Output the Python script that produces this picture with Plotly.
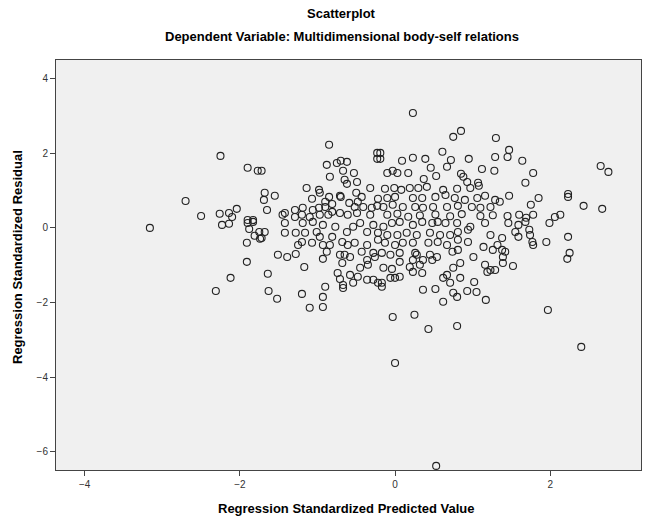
import plotly.graph_objects as go

# Regression standardized predicted value (x) and residual (y)
pred = [
    -2.25, -1.90, -1.77, -2.70, -2.50, -2.26, -2.14, -2.04, -2.10, -1.90, -1.83,
    -3.16, -2.23, -2.14, -1.90, -1.83, -1.88, -1.81, -1.75, -1.74, -1.91, -1.91, -2.12, -2.31,
    -0.85, -0.23, -0.23, -1.72, -0.88, -0.75, -0.70, -0.62, -0.67, -0.53, -0.84, -0.65, -0.62,
    -0.49, -0.32, -1.14, -0.98, -0.97, -1.68, -1.55, -1.69, -1.07, -0.85, -0.71, -0.70, -0.50,
    -0.43, -0.22, -1.65, -1.42, -1.45, -1.29, -1.19, -1.06, -0.98, -0.90, -0.90, -0.81, -0.81,
    -0.59, -0.52, -0.48, -0.41, -0.30, -0.23, -0.71, -0.61, -0.49, -1.20, -1.10, -0.97, -0.86,
    -0.32, -1.29,
    0.23, 0.75, 0.85, 1.30, -0.19, -0.19, 0.61, 0.09, 0.23, 0.39, 0.72, 0.95, 1.29, 0.46, 0.67,
    1.12, 1.28, -0.10, -0.03, 0.03, 0.17, 0.53, 0.37, 0.85, 0.88, 0.93, 1.07, 1.08, 0.97, -0.13,
    -0.01, 0.08, 0.19, 0.30, 0.41, 0.62, 0.80, 0.65, 0.52, 0.35, 0.23, -0.10, 0.00, 0.77, 0.90,
    1.06, 1.16, 1.29, -0.15, -0.03, 0.10, 0.26, 0.36, 0.49, 0.67, 0.81, 0.99, 1.10, 1.23, -0.10,
    0.03, 0.17, 0.32, 0.52, 0.71, 0.86, 1.10, 1.26,
    1.47, 1.45, 1.64, 1.78, 1.68, 2.65, 2.75, 1.47, 1.85, 2.23, 2.23, 1.75, 2.43, 2.67, 1.35,
    1.45, 1.60, 1.78, 2.13, 2.06, 1.69,
    -1.68, -1.72, -1.42, -1.42, -1.28, -1.16, -1.19, -1.06, -0.93, -1.01, -0.97, -1.07, -1.20,
    -1.25, -0.93, -0.84, -0.88, -0.81, -0.77, -0.68, -0.62, -0.54, -0.45, -0.36, -0.28, -0.22,
    -0.61, -0.52, -0.43, -0.36, -0.28, -0.71, -0.65, -0.58, -0.93, -1.51, -1.39, -1.28, -0.68,
    -0.45, -0.35, -0.36, -0.74, -0.71, -0.58, -0.48, -0.36, -0.28, -0.22, -0.54, -0.67, -0.67,
    -1.17, -1.64, -1.63, -1.52, -1.20, -0.90, -0.93, -1.10, -0.93, -0.26, -0.22,
    -0.15, -0.04, 0.06, 0.23, 0.35, 0.48, 0.55, 0.65, 0.80, 0.97, 1.16, -0.10, 0.03, 0.15, 0.28,
    0.45, 0.58, 0.71, 0.81, 0.94, 1.23, 1.32, -0.13, 0.00, 0.10, 0.23, 0.43, 0.55, 0.67, 0.81,
    0.94, 1.14, 1.26, -0.17, -0.06, 0.06, 0.26, 0.28, 0.45, 0.54, 0.74, 0.81, 1.01, 0.06, 0.23,
    0.36, 0.48, -0.15, -0.04, 0.19, 0.32, 0.23, 0.35, 0.75, 0.84, 1.16, 1.23, 1.19, 1.29, -0.06,
    0.00, 0.06, 0.62, 0.67, 0.71, 0.84, -0.17, -0.17, 1.02, 0.36, 0.52, 0.75, 0.80, 0.93, 1.05,
    0.62, 1.17, -0.03, 0.25, 0.43, 0.80,
    1.46, 1.59, 1.68, 1.99, 1.55, 1.59, 1.73, 1.74, 1.77, 1.78, 1.95, 2.23, 2.25, 2.22, 1.38,
    1.38, 1.42, 1.39, 1.39, 1.52, 1.97,
    2.40, 0.00, 0.53,
]
resid = [
    1.93, 1.61, 1.53, 0.72, 0.32, 0.38, 0.40, 0.51, 0.29, 0.21, 0.21,
    0.00, 0.08, 0.11, 0.13, 0.16, -0.03, -0.21, -0.11, -0.29, -0.40, -0.91, -1.34, -1.69,
    2.23, 2.01, 1.85, 1.53, 1.69, 1.74, 1.80, 1.77, 1.53, 1.47, 1.37, 1.29, 1.18,
    1.23, 1.07, 1.07, 1.02, 0.94, 0.94, 0.86, 0.75, 0.78, 0.83, 0.86, 0.83, 0.94,
    0.83, 0.78, 0.48, 0.40, 0.35, 0.48, 0.54, 0.48, 0.54, 0.70, 0.56, 0.64, 0.43,
    0.67, 0.56, 0.70, 0.56, 0.54, 0.59, 0.40, 0.35, 0.40, 0.35, 0.29, 0.35, 0.35,
    0.35, 0.29,
    3.08, 2.44, 2.60, 2.41, 2.01, 1.85, 2.04, 1.80, 1.88, 1.85, 1.82, 1.85, 1.90, 1.61, 1.64,
    1.58, 1.53, 1.47, 1.53, 1.47, 1.47, 1.39, 1.31, 1.45, 1.37, 1.23, 1.21, 1.13, 1.07, 1.05,
    1.07, 1.02, 1.07, 1.07, 1.10, 1.02, 1.05, 0.88, 0.83, 0.80, 0.80, 0.80, 0.83, 0.80, 0.75,
    0.80, 0.86, 0.75, 0.56, 0.62, 0.56, 0.56, 0.54, 0.56, 0.56, 0.59, 0.56, 0.54, 0.56, 0.35,
    0.38, 0.30, 0.33, 0.36, 0.31, 0.37, 0.32, 0.34,
    2.09, 1.90, 1.80, 1.47, 1.21, 1.66, 1.50, 0.86, 0.80, 0.91, 0.83, 0.62, 0.59, 0.51, 0.70,
    0.32, 0.35, 0.35, 0.35, 0.29, 0.27,
    -0.11, -0.27, 0.13, -0.13, -0.13, -0.13, 0.13, 0.16, 0.08, -0.11, -0.24, -0.40, -0.38,
    -0.46, -0.46, -0.46, -0.64, -0.24, 0.03, -0.38, -0.11, 0.03, 0.13, -0.11, 0.08, -0.13,
    -0.46, -0.40, -0.64, -0.46, -0.67, -0.72, -0.72, -0.78, -0.83, -0.72, -0.78, -0.70, -0.94,
    -1.07, -0.99, -0.86, -1.21, -1.37, -1.26, -1.31, -1.39, -1.39, -1.47, -1.47, -1.53, -1.61,
    -1.05, -1.23, -1.69, -1.90, -1.77, -1.58, -1.85, -2.14, -2.12, -0.78, -0.32,
    0.03, 0.13, 0.16, 0.08, 0.16, 0.13, 0.16, 0.13, 0.13, 0.03, 0.13, -0.19, -0.19, -0.13, -0.19,
    -0.13, -0.19, -0.19, -0.11, -0.05, -0.19, -0.46, -0.40, -0.46, -0.40, -0.40, -0.40, -0.38, -0.46, -0.32,
    -0.38, -0.51, -0.59, -0.67, -0.72, -0.67, -0.67, -0.72, -0.72, -0.78, -0.64, -0.59, -0.78, -0.91, -0.86,
    -0.86, -0.86, -1.07, -1.10, -1.05, -0.99, -1.18, -1.21, -1.07, -0.94, -0.99, -1.13, -1.18, -1.13, -1.34,
    -1.34, -1.31, -1.34, -1.26, -1.47, -1.34, -1.47, -1.58, -1.45, -1.66, -1.64, -1.74, -1.85, -1.69, -1.72,
    -1.98, -1.93, -2.39, -2.33, -2.71, -2.63,
    0.13, 0.08, 0.16, 0.13, -0.11, -0.24, -0.05, -0.19, -0.38, -0.46, -0.38, -0.24, -0.67, -0.83, -0.27,
    -0.59, -0.64, -0.78, -0.94, -1.02, -2.20,
    -3.19, -3.62, -6.38,
]

x_ticks = [-4, -2, 0, 2]
y_ticks = [-6, -4, -2, 0, 2, 4]

title_main = "Scatterplot"
title_sub = "Dependent Variable: Multidimensional body-self relations"
x_title = "Regression Standardized Predicted Value"
y_title = "Regression Standardized Residual"

FONT = "Liberation Sans, Arial, sans-serif"

W, H = 651, 520
PL, PR, PT, PB = 56, 641, 60, 470
PW, PH = PR - PL, PB - PT

fig = go.Figure(go.Scatter(
    x=pred, y=resid, mode="markers",
    marker=dict(symbol="circle-open", size=7, color="#222222", line=dict(width=1.1)),
    hoverinfo="x+y",
))

axis_common = dict(
    showgrid=False, zeroline=False, showline=True, linecolor="#444444", linewidth=1,
    mirror=True, ticks="outside", ticklen=5, tickcolor="#444444",
    tickfont=dict(family=FONT, size=10, color="#333333"),
)

fig.update_layout(
    width=W, height=H,
    margin=dict(l=PL, r=W - PR, t=PT, b=H - PB),
    paper_bgcolor="white", plot_bgcolor="#F0F0F0",
    showlegend=False,
    xaxis=dict(range=[-4.37, 3.17], tickvals=x_ticks, **axis_common),
    yaxis=dict(range=[-6.49, 4.5], tickvals=y_ticks, **axis_common),
    title=dict(text="<b>%s</b>" % title_main, x=341 / W, xanchor="center",
               y=1 - 13 / H, yanchor="middle",
               font=dict(family=FONT, size=13, color="black")),
    annotations=[
        dict(text="<b>%s</b>" % title_sub, xref="paper", yref="paper",
             x=(342 - PL) / PW, y=(PB - 37) / PH, showarrow=False,
             xanchor="center", yanchor="middle",
             font=dict(family=FONT, size=13, color="black")),
        dict(text="<b>%s</b>" % x_title, xref="paper", yref="paper",
             x=(346 - PL) / PW, y=(PB - 508) / PH, showarrow=False,
             xanchor="center", yanchor="middle",
             font=dict(family=FONT, size=13, color="black")),
        dict(text="<b>%s</b>" % y_title, xref="paper", yref="paper",
             x=(17 - PL) / PW, y=(PB - 257) / PH, showarrow=False,
             xanchor="center", yanchor="middle", textangle=-90,
             font=dict(family=FONT, size=13, color="black")),
    ],
)

# remove the page's default 8px body margin so the figure fills the window exactly
fig.write_html("out.html", config={"displayModeBar": False},
               post_script="document.body.style.margin='0';")
